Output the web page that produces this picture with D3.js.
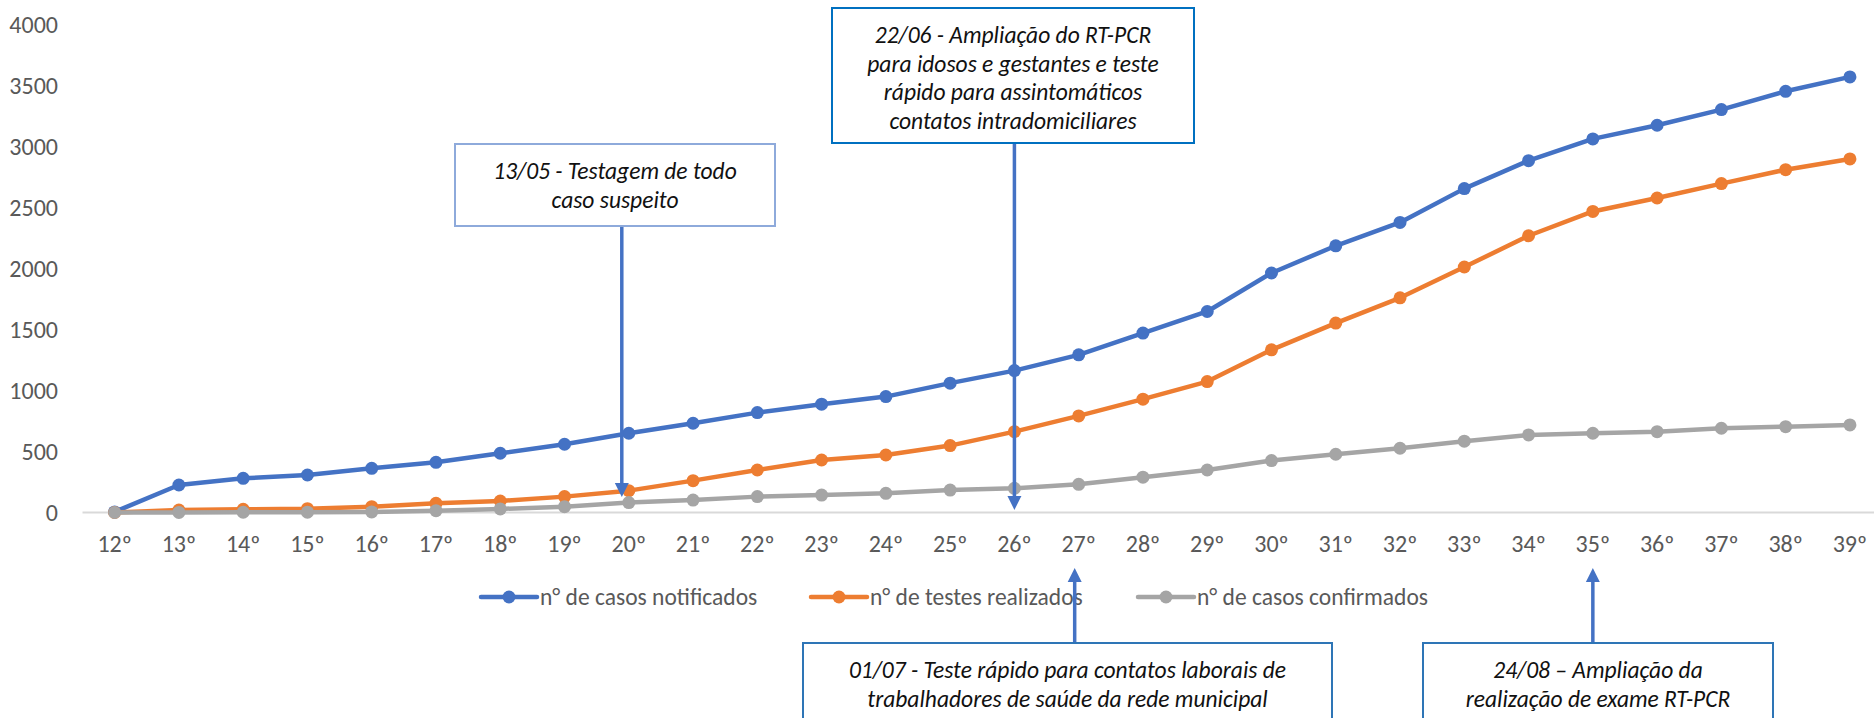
<!DOCTYPE html>
<html>
<head>
<meta charset="utf-8">
<script src="https://cdn.jsdelivr.net/npm/d3@7"></script>
<style>
  html, body { margin: 0; padding: 0; background: #fff; }
  svg { display: block; font-family: Carlito, Lato, "Open Sans", sans-serif; }
</style>
</head>
<body>
<div id="chart"></div>
<script>
// Weekly cumulative counts, epidemiological weeks 12 to 39

const weeks = ['12º','13º','14º','15º','16º','17º','18º','19º','20º','21º','22º','23º','24º','25º',
               '26º','27º','28º','29º','30º','31º','32º','33º','34º','35º','36º','37º','38º','39º'];

const notificados = [5, 225, 280, 307, 362, 411, 485, 559, 649, 731, 818, 887, 949, 1059,
                     1162, 1291, 1469, 1646, 1961, 2184, 2375, 2652, 2881, 3059, 3171, 3299, 3449, 3567];
const testes = [0, 20, 26, 31, 48, 75, 94, 130, 179, 261, 348, 430, 471, 548,
                662, 791, 928, 1072, 1332, 1551, 1758, 2010, 2266, 2465, 2575, 2693, 2807, 2895];
const confirmados = [0, 1, 2, 3, 5, 15, 29, 48, 81, 102, 130, 143, 157, 184,
                     198, 231, 289, 348, 425, 477, 526, 584, 635, 649, 662, 690, 703, 717];

const yTicks = [0, 500, 1000, 1500, 2000, 2500, 3000, 3500, 4000];

const seriesNames = ['n° de casos notificados', 'n° de testes realizados', 'n° de casos confirmados'];
const seriesColors = ['#4472c4', '#ed7d31', '#a5a5a5'];

// annotation boxes: week the arrow points at, text lines, arrow direction
const notes = [
    { week: '20º', dx: -7, lines: ['13/05 - Testagem de todo', 'caso suspeito'], top: true,
      box: [455, 144, 775, 226], tipY: 497, border: '#8eaadb' },
    { week: '26º', dx: 0, lines: ['22/06 - Ampliação do RT-PCR', 'para idosos e gestantes e teste',
      'rápido para assintomáticos', 'contatos intradomiciliares'], top: true,
      box: [832, 8, 1194, 143], tipY: 510, border: '#0070c0' },
    { week: '27º', dx: -4, lines: ['01/07 - Teste rápido para contatos laborais de',
      'trabalhadores de saúde da rede municipal'], top: false,
      box: [803, 643, 1332, 740], tipY: 568, border: '#2e75b6' },
    { week: '35º', dx: 0, lines: ['24/08 – Ampliação da', 'realização de exame RT-PCR'], top: false,
      box: [1423, 643, 1773, 740], tipY: 568, border: '#2e75b6' }
];

const width = 1874, height = 718;
const x0 = 82.5, step = 64.27;

const svg = d3.select('#chart').append('svg')
    .attr('width', width).attr('height', height);

const x = d3.scalePoint().domain(weeks)
    .range([x0, x0 + step * weeks.length]).padding(0.5);
const y = d3.scaleLinear().domain([0, 4000]).range([512.5, 24]);

// Y tick labels (no axis line, no gridlines)
svg.append('g').selectAll('text')
    .data(yTicks).join('text')
    .attr('x', 58).attr('y', d => y(d))
    .attr('text-anchor', 'end').attr('dominant-baseline', 'central')
    .attr('fill', '#595959').attr('font-size', '24px')
    .text(d => d);

// X axis baseline and labels
svg.append('line')
    .attr('x1', x0).attr('x2', x0 + step * weeks.length)
    .attr('y1', y(0)).attr('y2', y(0))
    .attr('stroke', '#d9d9d9').attr('stroke-width', 2);

svg.append('g').selectAll('text')
    .data(weeks).join('text')
    .attr('x', d => x(d)).attr('y', 543)
    .attr('text-anchor', 'middle').attr('dominant-baseline', 'central')
    .attr('fill', '#595959').attr('font-size', '24px')
    .text(d => d);

// Series
const allSeries = [notificados, testes, confirmados];
const line = d3.line().x((d, i) => x(weeks[i])).y(d => y(d));

allSeries.forEach((values, k) => {
    const g = svg.append('g');
    g.append('path')
        .attr('d', line(values))
        .attr('fill', 'none').attr('stroke', seriesColors[k])
        .attr('stroke-width', 4.5).attr('stroke-linejoin', 'round');
    g.selectAll('circle')
        .data(values).join('circle')
        .attr('cx', (d, i) => x(weeks[i])).attr('cy', d => y(d))
        .attr('r', 6.5).attr('fill', seriesColors[k]);
});

// Legend
const legendX = [481, 811, 1138];
const legend = svg.append('g');
seriesNames.forEach((name, k) => {
    const lx = legendX[k];
    legend.append('line')
        .attr('x1', lx).attr('x2', lx + 56).attr('y1', 597).attr('y2', 597)
        .attr('stroke', seriesColors[k]).attr('stroke-width', 4.5).attr('stroke-linecap', 'round');
    legend.append('circle')
        .attr('cx', lx + 28).attr('cy', 597).attr('r', 6.5).attr('fill', seriesColors[k]);
    legend.append('text')
        .attr('x', lx + 59).attr('y', 597)
        .attr('dominant-baseline', 'central')
        .attr('fill', '#595959').attr('font-size', '23.5px')
        .text(name);
});

// Annotations with arrows
const arrowBlue = '#4472c4';
const notesLayer = svg.append('g');
for (const n of notes) {
    const ax = x(n.week) + n.dx;
    const [bx1, by1, bx2, by2] = n.box;
    const baseY = n.top ? by2 : by1;
    const dir = n.top ? 1 : -1;
    const headLen = 14, headW = 7;

    notesLayer.append('line')
        .attr('x1', ax).attr('x2', ax)
        .attr('y1', baseY).attr('y2', n.tipY - dir * headLen)
        .attr('stroke', arrowBlue).attr('stroke-width', 3.5);
    notesLayer.append('polygon')
        .attr('points', `${ax - headW},${n.tipY - dir * headLen} ${ax + headW},${n.tipY - dir * headLen} ${ax},${n.tipY}`)
        .attr('fill', arrowBlue);

    notesLayer.append('rect')
        .attr('x', bx1).attr('y', by1)
        .attr('width', bx2 - bx1).attr('height', by2 - by1)
        .attr('fill', '#fff').attr('stroke', n.border).attr('stroke-width', 2);

    const cx = (bx1 + bx2) / 2;
    const firstY = by1 + 27;
    n.lines.forEach((t, i) => {
        notesLayer.append('text')
            .attr('x', cx).attr('y', firstY + i * 28.5)
            .attr('text-anchor', 'middle').attr('dominant-baseline', 'central')
            .attr('font-style', 'italic').attr('font-size', '23.5px')
            .attr('fill', '#111')
            .text(t);
    });
}
</script>
</body>
</html>
